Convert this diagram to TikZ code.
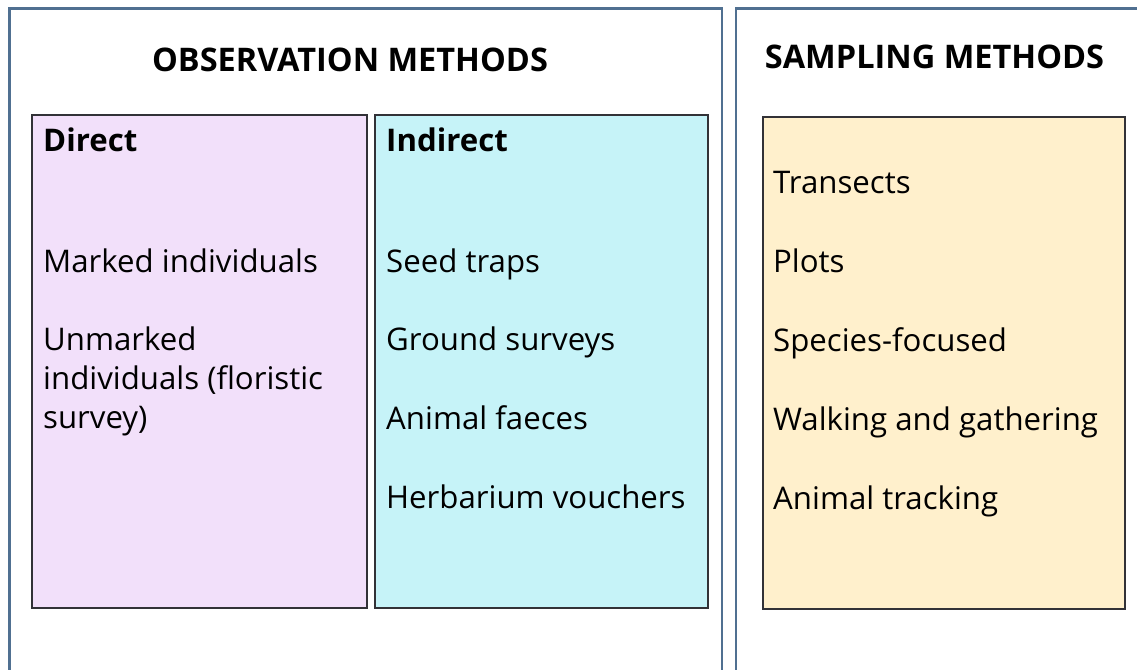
\documentclass[tikz,border=0pt]{standalone}
\usepackage{fontspec}
\setmainfont{Open Sans}
\definecolor{panelc}{RGB}{80,112,145}
\definecolor{boxline}{RGB}{50,50,55}
\definecolor{directc}{RGB}{242,224,250}
\definecolor{indirectc}{RGB}{198,243,248}
\definecolor{samplec}{RGB}{255,240,204}
\begin{document}
\begin{tikzpicture}[x=1pt,y=-1pt,
  panel/.style={draw=panelc,line width=2.4pt},
  colbox/.style={draw=boxline,line width=1.5pt},
  title/.style={anchor=base,inner sep=0pt,font=\fontsize{32.5}{38}\selectfont\bfseries},
  head/.style={anchor=base west,inner sep=0pt,font=\fontsize{31.2}{36}\selectfont\bfseries},
  item/.style={anchor=base west,inner sep=0pt,font=\fontsize{31.2}{36}\selectfont}]
\useasboundingbox (0,0) rectangle (1137,669);
\fill[white] (0,0) rectangle (1137,669);
% outer panels
\draw[panel] (9.5,680) -- (9.5,8.5) -- (722,8.5) -- (722,680);
\draw[panel] (736,680) -- (736,8.5) -- (1150,8.5);
% titles
\node[title] (obs) at (350,71) {OBSERVATION METHODS};
\node[title] (samp) at (934.5,69) {SAMPLING METHODS};
% column boxes
\draw[colbox,fill=directc] (32,115) rectangle (367,608);
\draw[colbox,fill=indirectc] (375,115) rectangle (708,608);
\draw[colbox,fill=samplec] (763,117) rectangle (1125,609);
% Direct
\node[head] (dh) at (43,151) {Direct};
\node[item] (d1) at (43,272) {Marked individuals};
\node[item] (d2a) at (43,350) {Unmarked};
\node[item] (d2b) at (43,389) {individuals (floristic};
\node[item] (d2c) at (43,428) {survey)};
% Indirect
\node[head] (ih) at (386,151) {Indirect};
\node[item] (i1) at (386,272) {Seed traps};
\node[item] (i2) at (386,350) {Ground surveys};
\node[item] (i3) at (386,429) {Animal faeces};
\node[item] (i4) at (386,508) {Herbarium vouchers};
% Sampling
\node[item] (s1) at (773,193) {Transects};
\node[item] (s2) at (773,272) {Plots};
\node[item] (s3) at (773,351) {Species-focused};
\node[item] (s4) at (773,430) {Walking and gathering};
\node[item] (s5) at (773,509) {Animal tracking};
\end{tikzpicture}
\end{document}
